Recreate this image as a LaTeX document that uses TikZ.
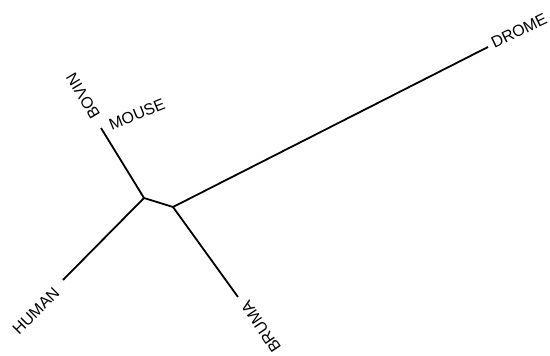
\documentclass[tikz,border=0pt]{standalone}
\usepackage{fontspec}
\setmainfont{Liberation Sans}
\usetikzlibrary{positioning}

\begin{document}
\begin{tikzpicture}[x=1pt, y=1pt, taxon/.style={inner sep=0pt, font=\fontsize{16}{16}\selectfont},
					branch/.style={line width=1.8pt, line join=round}]   %unrooted tree
	\useasboundingbox (0,0) rectangle (550,356);
	% inner nodes
	\coordinate (n1) at (144,158);
	\coordinate (n2) at (173,149);
	% tips
	\coordinate (tMB) at (101,228);
	\coordinate (tHU) at (63,76);
	\coordinate (tBR) at (238,59);
	\coordinate (tDR) at (488,309);
	\draw[branch] (tMB) -- (n1) -- (n2) -- (tDR);
	\draw[branch] (n1) -- (tHU);
	\draw[branch] (n2) -- (tBR);
	% labels
	\node[taxon, rotate=22] (mouse) at (137,242) {MOUSE};
	\node[taxon, rotate=121] (bovin) at (83,260) {BOVIN};
	\node[taxon, rotate=45] (human) at (36,45) {HUMAN};
	\node[taxon, rotate=124] (bruma) at (261,29) {BRUMA};
	\node[taxon, rotate=26] (drome) at (519,325) {DROME};
\end{tikzpicture}
\end{document}
